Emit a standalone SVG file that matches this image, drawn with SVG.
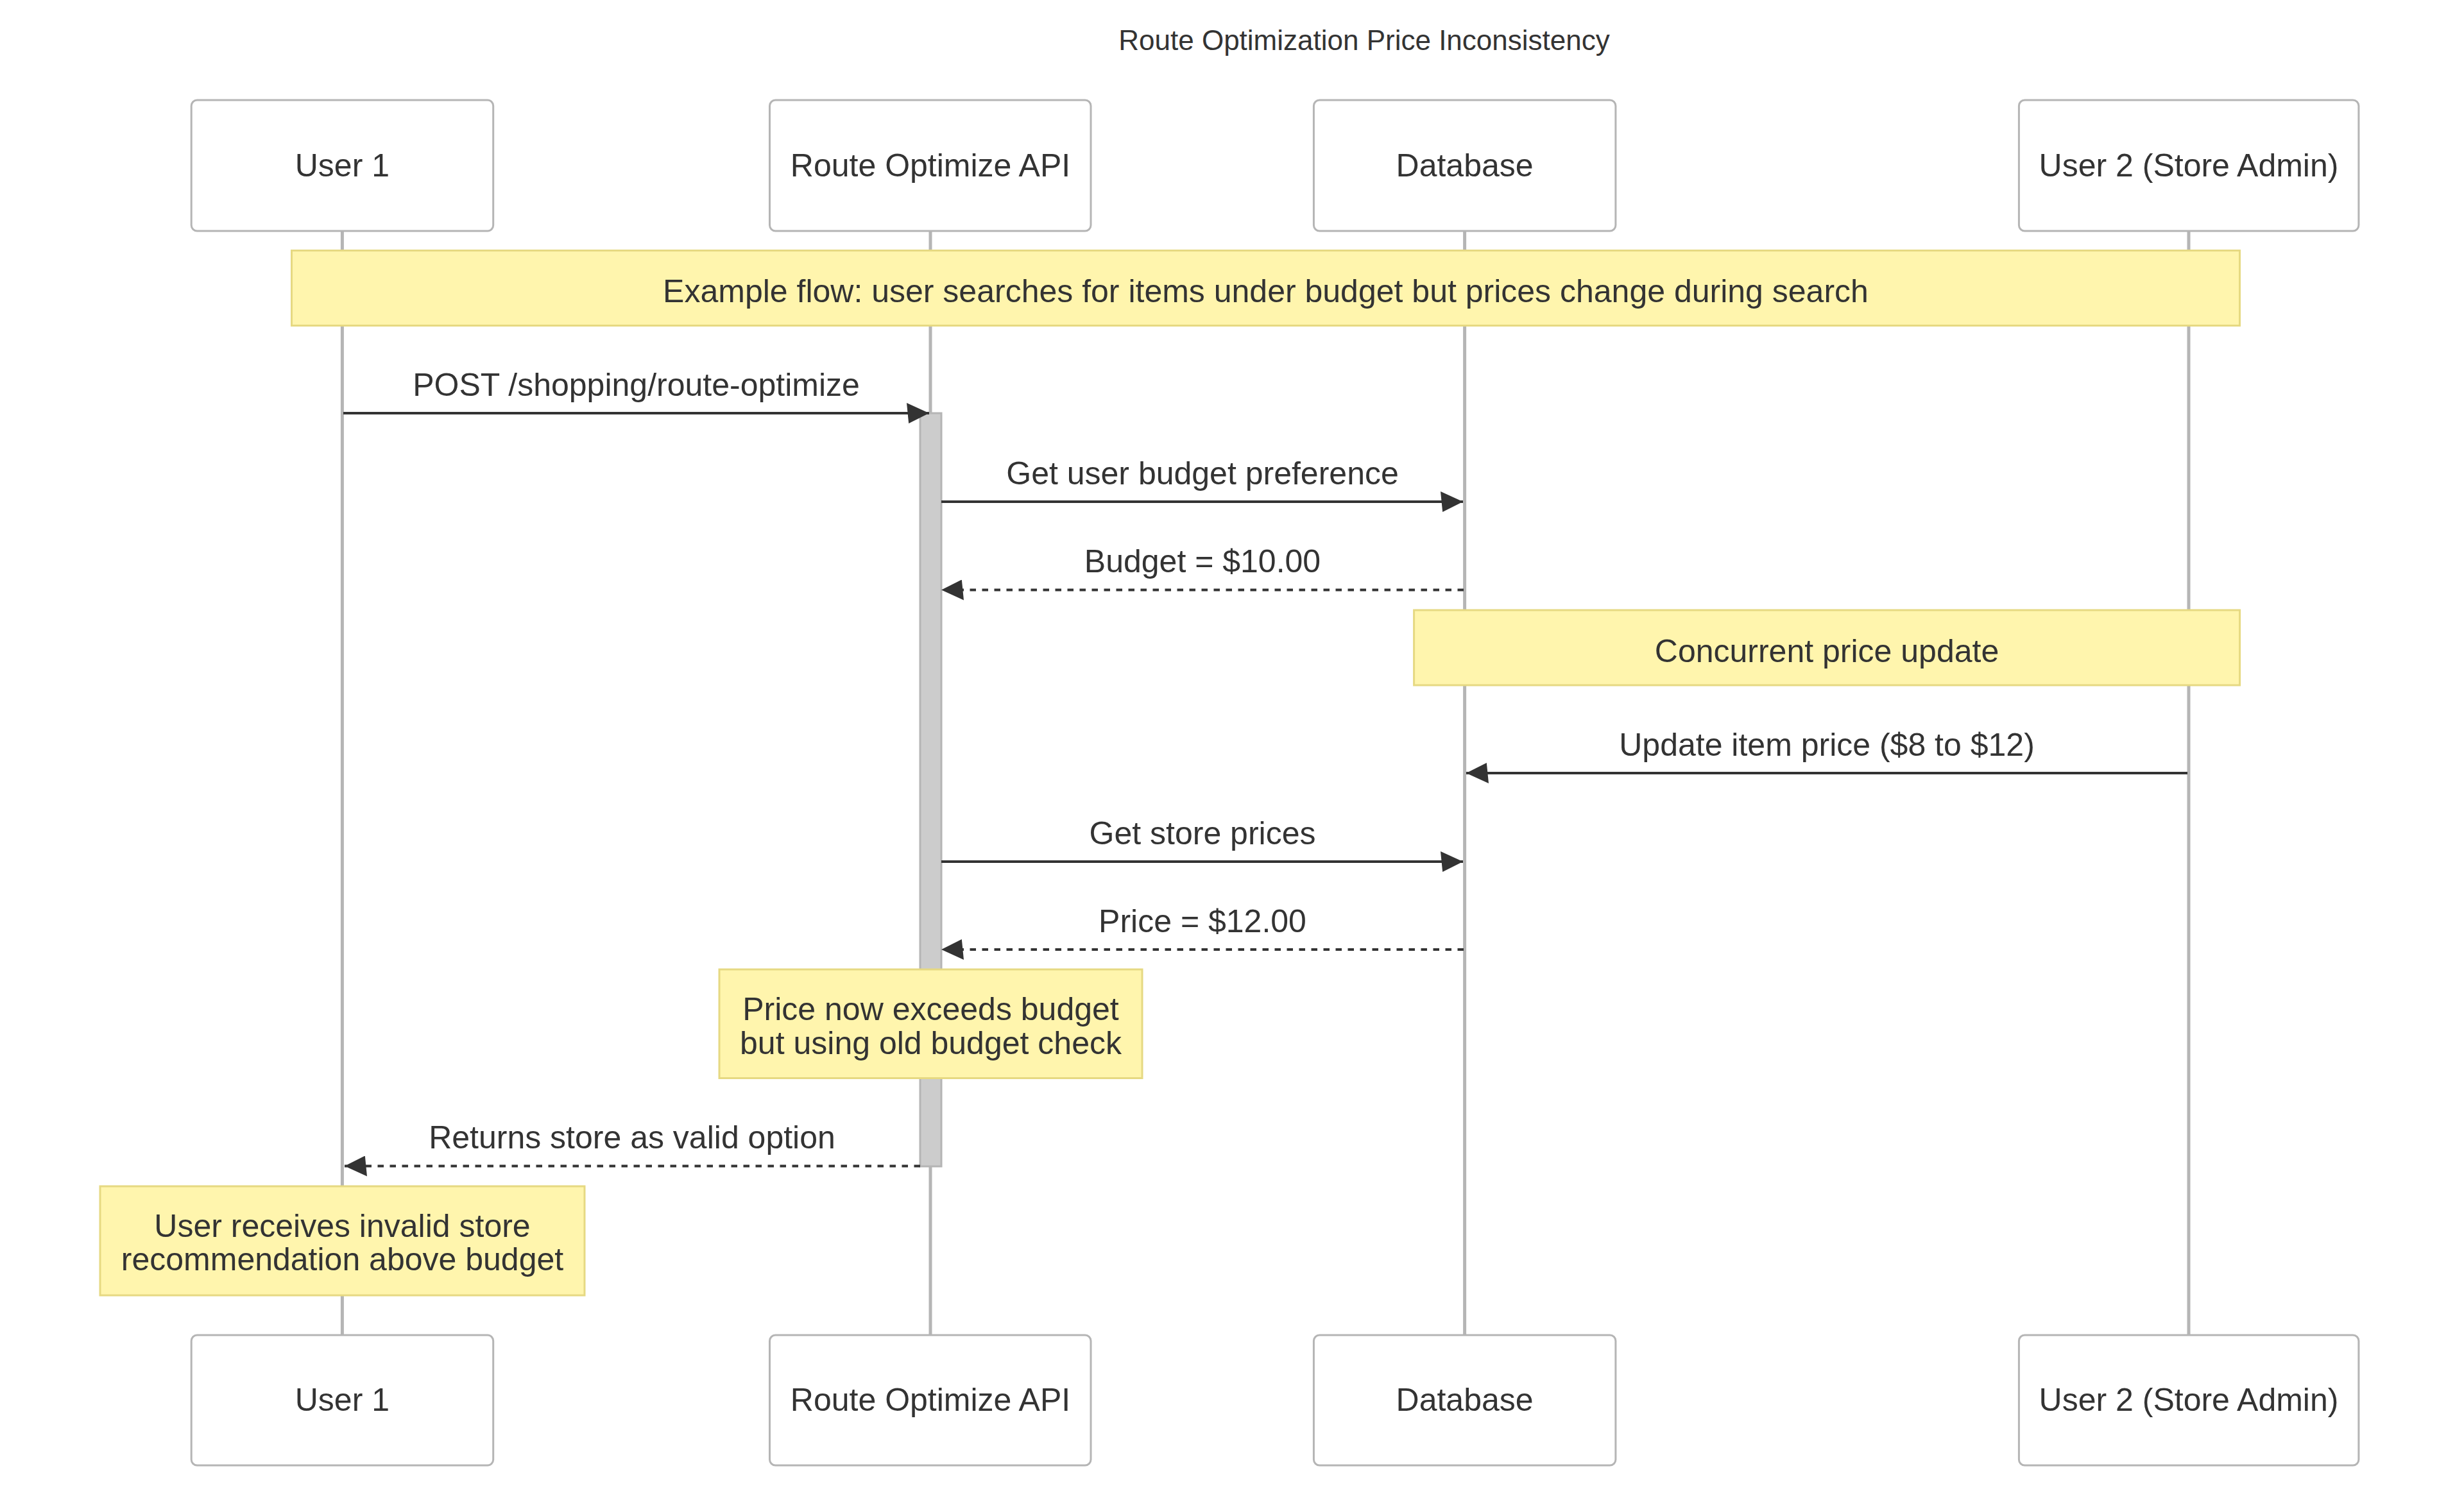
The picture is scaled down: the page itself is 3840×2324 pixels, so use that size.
<svg xmlns="http://www.w3.org/2000/svg" width="3840" height="2324" viewBox="0 0 3840 2324">
<style>
text{font-family:"Liberation Sans",Arial,Helvetica,sans-serif;fill:#333;}
.actor{fill:#fff;stroke:#b5b5b5;stroke-width:3;}
.atext{font-size:50px;text-anchor:middle;}
.life{stroke:#b5b5b5;stroke-width:5;}
.note{fill:#fff5ad;stroke:#e6d982;stroke-width:3;}
.ntext{font-size:50px;text-anchor:middle;}
.msg{stroke:#333;stroke-width:4;fill:none;marker-end:url(#arrow);}
.dash{stroke-dasharray:9.5,9.5;}
.mtext{font-size:50px;text-anchor:middle;}
.act{fill:#cccccc;stroke:#b5b5b5;stroke-width:3;}
.title{font-size:44px;text-anchor:middle;}
</style>
<defs>
<marker id="arrow" viewBox="-1 0 11 10" refX="10" refY="5" markerWidth="35" markerHeight="32" markerUnits="userSpaceOnUse" orient="auto" preserveAspectRatio="none">
<path d="M -1 0 L 10 5 L 0 10 z" fill="#333"/>
</marker>
</defs>
<rect x="0" y="0" width="3840" height="2324" fill="#fff"/>
<text class="title" x="2126" y="78">Route Optimization Price Inconsistency</text>

<g id="lifelines">
<line class="life" x1="533.4" y1="360" x2="533.4" y2="2081"/>
<line class="life" x1="1450" y1="360" x2="1450" y2="2081"/>
<line class="life" x1="2282.6" y1="360" x2="2282.6" y2="2081"/>
<line class="life" x1="3411" y1="360" x2="3411" y2="2081"/>
</g>

<g id="actor-user1">
<rect class="actor" x="298.2" y="156" width="470.5" height="204" rx="9"/>
<text class="atext" x="533.4" y="275">User 1</text>
<rect class="actor" x="298.2" y="2081" width="470.5" height="203" rx="9"/>
<text class="atext" x="533.4" y="2199">User 1</text>
</g>
<g id="actor-api">
<rect class="actor" x="1199.5" y="156" width="500.5" height="204" rx="9"/>
<text class="atext" x="1450" y="275">Route Optimize API</text>
<rect class="actor" x="1199.5" y="2081" width="500.5" height="203" rx="9"/>
<text class="atext" x="1450" y="2199">Route Optimize API</text>
</g>
<g id="actor-db">
<rect class="actor" x="2047.4" y="156" width="470.5" height="204" rx="9"/>
<text class="atext" x="2282.6" y="275">Database</text>
<rect class="actor" x="2047.4" y="2081" width="470.5" height="203" rx="9"/>
<text class="atext" x="2282.6" y="2199">Database</text>
</g>
<g id="actor-user2">
<rect class="actor" x="3146.4" y="156" width="529.5" height="204" rx="9"/>
<text class="atext" x="3411" y="275">User 2 (Store Admin)</text>
<rect class="actor" x="3146.4" y="2081" width="529.5" height="203" rx="9"/>
<text class="atext" x="3411" y="2199">User 2 (Store Admin)</text>
</g>

<g id="activation">
<rect class="act" x="1434" y="644" width="33" height="1174"/>
</g>

<g id="note-example">
<rect class="note" x="454.5" y="390.5" width="3036" height="117"/>
<text class="ntext" x="1972.5" y="471">Example flow: user searches for items under budget but prices change during search</text>
</g>
<g id="note-concurrent">
<rect class="note" x="2203.6" y="951" width="1287" height="117"/>
<text class="ntext" x="2847" y="1032">Concurrent price update</text>
</g>
<g id="note-exceeds">
<rect class="note" x="1121" y="1511" width="659" height="169.5"/>
<text class="ntext" x="1450.5" y="1590">Price now exceeds budget</text>
<text class="ntext" x="1450.5" y="1643">but using old budget check</text>
</g>
<g id="note-invalid">
<rect class="note" x="156" y="1849" width="755" height="170"/>
<text class="ntext" x="533.5" y="1928">User receives invalid store</text>
<text class="ntext" x="533.5" y="1980">recommendation above budget</text>
</g>

<g id="connectors">
<line class="msg" x1="535" y1="644" x2="1448" y2="644"/>
<text class="mtext" x="991.5" y="617">POST /shopping/route-optimize</text>
<line class="msg" x1="1467" y1="782" x2="2280" y2="782"/>
<text class="mtext" x="1874" y="755">Get user budget preference</text>
<line class="msg dash" x1="2281" y1="919.5" x2="1467" y2="919.5"/>
<text class="mtext" x="1874" y="892">Budget = $10.00</text>
<line class="msg" x1="3409" y1="1205" x2="2285" y2="1205"/>
<text class="mtext" x="2847" y="1178">Update item price ($8 to $12)</text>
<line class="msg" x1="1467" y1="1343" x2="2280" y2="1343"/>
<text class="mtext" x="1874" y="1316">Get store prices</text>
<line class="msg dash" x1="2281" y1="1480" x2="1467" y2="1480"/>
<text class="mtext" x="1874" y="1453">Price = $12.00</text>
<line class="msg dash" x1="1434" y1="1817.5" x2="537" y2="1817.5"/>
<text class="mtext" x="985" y="1790">Returns store as valid option</text>
</g>
</svg>
